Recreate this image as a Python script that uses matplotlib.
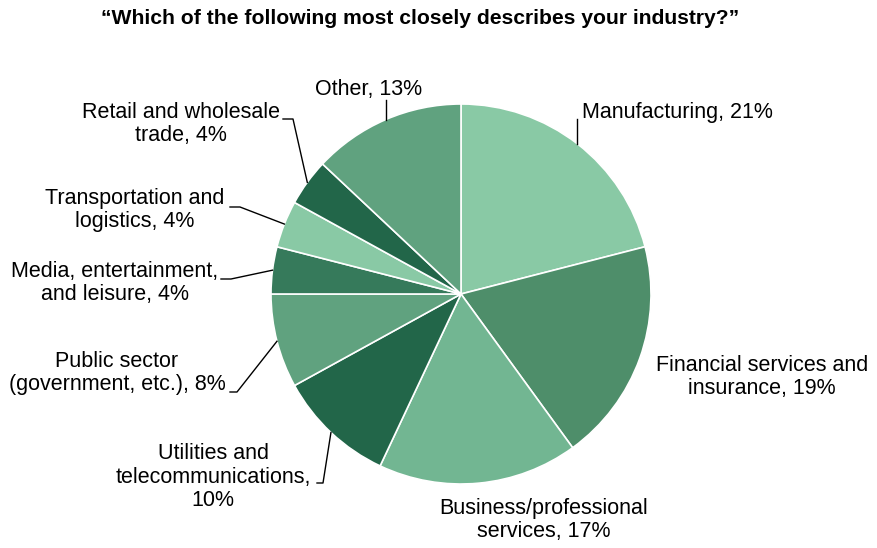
import numpy as np
import matplotlib.pyplot as plt

plt.rcParams['font.family'] = ['Liberation Sans', 'DejaVu Sans']

# survey answers, clockwise from 12 o'clock
industries = ['Manufacturing', 'Financial services and\ninsurance',
              'Business/professional\nservices', 'Utilities and\ntelecommunications',
              'Public sector\n(government, etc.)', 'Media, entertainment,\nand leisure',
              'Transportation and\nlogistics', 'Retail and wholesale\ntrade', 'Other']
shares = [21, 19, 17, 10, 8, 4, 4, 4, 13]
colors = ['#89c9a5', '#4e8e6a', '#72b692', '#226649', '#60a27f',
          '#367a5b', '#89c9a5', '#226649', '#60a27f']

W, H = 877, 548
fig = plt.figure(figsize=(W / 100, H / 100), dpi=100)
ax = fig.add_axes([0, 0, 1, 1])

cx, cy, r = 461, H - 294, 190
wedges, _ = ax.pie(shares, colors=colors, startangle=90, counterclock=False,
                   center=(cx, cy), radius=r,
                   wedgeprops=dict(edgecolor='white', linewidth=1.2))
ax.set_xlim(0, W)
ax.set_ylim(0, H)
ax.set_aspect('equal')
ax.axis('off')

# label placement in pixels from the top-left corner: x, y, ha, va, separator
layout = [
    (582, 118, 'left', 'baseline', ', '),
    (762, 377, 'center', 'center', ', '),
    (544, 520, 'center', 'center', ', '),
    (213, 477, 'center', 'center', ',\n'),
    (117, 373, 'center', 'center', ', '),
    (115, 283, 'center', 'center', ', '),
    (135, 210, 'center', 'center', ', '),
    (181, 124, 'center', 'center', ', '),
    (369, 95, 'center', 'baseline', ', '),
]

# leader lines: points (pixels from top) leading to the slice edge
leaders = {
    0: [(None, 119)],
    3: [(317, 483), (323, 483)],
    4: [(230, 392), (237, 392)],
    5: [(221, 279), (231, 279)],
    6: [(230, 207), (240, 207)],
    7: [(283, 119), (293, 119)],
    8: [(None, 100)],
}

for i, (w, name, val) in enumerate(zip(wedges, industries, shares)):
    x, y, ha, va, sep = layout[i]
    ax.text(x, H - y, f'{name}{sep}{val}%', ha=ha, va=va, multialignment='center',
            fontsize=15.5, color='black', linespacing=1.15)
    if i in leaders:
        mid = np.deg2rad((w.theta1 + w.theta2) / 2)
        ex, ey = cx + r * np.cos(mid), cy + r * np.sin(mid)
        xs = [ex if px is None else px for px, _ in leaders[i]] + [ex]
        ys = [H - py for _, py in leaders[i]] + [ey]
        ax.plot(xs, ys, color='black', linewidth=1)

fig.text(420 / W, 1 - 24 / H,
         '\u201cWhich of the following most closely describes your industry?\u201d',
         ha='center', va='baseline', fontsize=15.2, fontweight='bold')

fig.savefig('out.png', dpi=100, facecolor='white')
